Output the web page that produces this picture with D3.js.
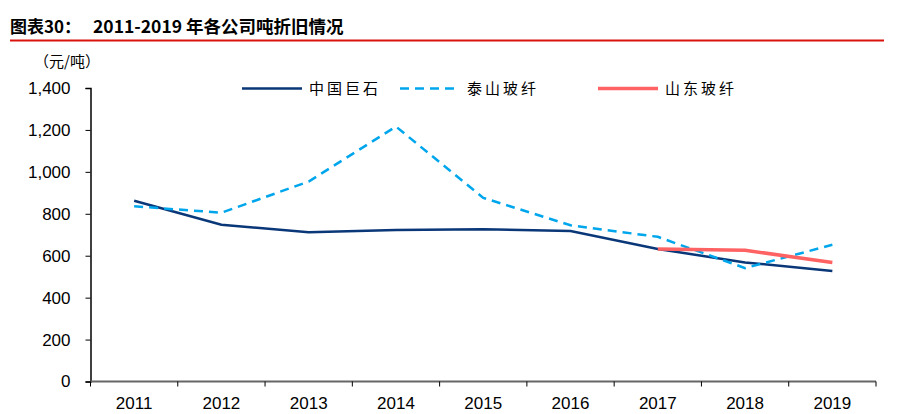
<!DOCTYPE html>
<html>
<head>
<meta charset="utf-8">
<script src="https://cdn.jsdelivr.net/npm/d3@7"></script>
<style>
  body { margin: 0; background: #fff; }
  text { font-family: "Liberation Sans", Arial, sans-serif; }
  .cjk { font-family: "Noto Sans CJK SC", sans-serif; }
</style>
</head>
<body>
<div id="chart-container"></div>
<script>
const width = 906;
const height = 414;

// data (元/吨)
const years = ["2011", "2012", "2013", "2014", "2015", "2016", "2017", "2018", "2019"];
const jushi = [862, 748, 712, 723, 726, 718, 632, 568, 527];
const taishan = [836, 805, 954, 1216, 876, 745, 690, 541, 652];
const shandong = [null, null, null, null, null, null, 632, 626, 568];
const yTicks = [0, 200, 400, 600, 800, 1000, 1200, 1400];
const seriesNames = ["中国巨石", "泰山玻纤", "山东玻纤"];

const svg = d3.select("#chart-container")
  .append("svg")
  .attr("width", width)
  .attr("height", height);

// title
svg.append("text")
  .attr("class", "cjk")
  .attr("x", 10)
  .attr("y", 33)
  .style("font-size", "17px")
  .style("font-weight", "bold")
  .text("图表30：");
svg.append("text")
  .attr("class", "cjk")
  .attr("x", 93)
  .attr("y", 33)
  .style("font-size", "17.5px")
  .style("font-weight", "bold")
  .text("2011-2019 年各公司吨折旧情况");

svg.append("line")
  .attr("x1", 10).attr("x2", 884)
  .attr("y1", 40.5).attr("y2", 40.5)
  .attr("stroke", "#d9120c")
  .attr("stroke-width", 2);

const x = d3.scaleBand().domain(years).range([90.5, 876]);
const y = d3.scaleLinear().domain([0, 1400]).range([381.5, 88]);

// unit label
svg.append("text")
  .attr("class", "cjk")
  .attr("x", 34)
  .attr("y", 67)
  .style("font-size", "15px")
  .text("（元/吨）");

// y axis
const yAxis = svg.append("g")
  .attr("transform", "translate(90.5,0)")
  .call(d3.axisLeft(y).tickValues(yTicks).tickSize(5).tickPadding(15)
    .tickFormat(d3.format(",")));
yAxis.select(".domain").attr("stroke", "#000").attr("stroke-width", 1.5);
yAxis.selectAll(".tick line").attr("stroke", "#000");
yAxis.selectAll(".tick text")
  .style("font-size", "17px")
  .style("font-family", "'Liberation Sans', Arial, sans-serif")
  .attr("fill", "#000");

// x axis with ticks on band edges
const xAxis = svg.append("g")
  .attr("transform", "translate(0,381.5)");
xAxis.append("line")
  .attr("x1", 90.5).attr("x2", 876)
  .attr("stroke", "#666").attr("stroke-width", 2);
xAxis.selectAll(".edge")
  .data(years.concat(["end"]))
  .enter()
  .append("line")
  .attr("x1", (d, i) => x.range()[0] + i * x.step())
  .attr("x2", (d, i) => x.range()[0] + i * x.step())
  .attr("y1", 0).attr("y2", 5)
  .attr("stroke", "#000");
xAxis.selectAll(".lbl")
  .data(years)
  .enter()
  .append("text")
  .attr("x", d => x(d) + x.bandwidth() / 2)
  .attr("y", 27)
  .attr("text-anchor", "middle")
  .style("font-size", "17px")
  .text(d => d);

const cx = (d, i) => x(years[i]) + x.bandwidth() / 2;
const line = d3.line()
  .defined(d => d != null)
  .x(cx)
  .y(d => y(d));

svg.append("path")
  .datum(jushi)
  .attr("fill", "none")
  .attr("stroke", "#0a3778")
  .attr("stroke-width", 2.5)
  .attr("d", line);

svg.append("path")
  .datum(taishan)
  .attr("fill", "none")
  .attr("stroke", "#00a6ec")
  .attr("stroke-width", 2.5)
  .attr("stroke-dasharray", "9,6")
  .attr("d", line);

svg.append("path")
  .datum(shandong)
  .attr("fill", "none")
  .attr("stroke", "#ff6263")
  .attr("stroke-width", 3.5)
  .attr("d", line);

// legend
const legendItems = [
  { name: seriesNames[0], x: 242, color: "#0a3778", w: 2.5, dash: null },
  { name: seriesNames[1], x: 400, color: "#00a6ec", w: 2.5, dash: "9,6" },
  { name: seriesNames[2], x: 598, color: "#ff6263", w: 3.5, dash: null }
];
const legend = svg.append("g");
legendItems.forEach(item => {
  legend.append("line")
    .attr("x1", item.x).attr("x2", item.x + 60)
    .attr("y1", 88.5).attr("y2", 88.5)
    .attr("stroke", item.color)
    .attr("stroke-width", item.w)
    .attr("stroke-dasharray", item.dash);
  legend.append("text")
    .attr("class", "cjk")
    .attr("x", item.x + 67)
    .attr("y", 94)
    .style("font-size", "15px")
    .style("letter-spacing", "3px")
    .text(item.name);
});
</script>
</body>
</html>
